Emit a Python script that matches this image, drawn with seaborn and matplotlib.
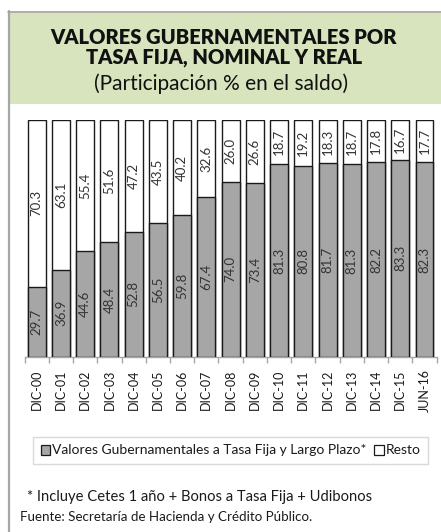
import matplotlib
matplotlib.use("Agg")
import matplotlib.pyplot as plt
import matplotlib.patches as mpatches
from matplotlib.lines import Line2D
import numpy as np
import pandas as pd
import seaborn as sns

# Participación % en el saldo de valores gubernamentales
periodos = ["DIC-00", "DIC-01", "DIC-02", "DIC-03", "DIC-04", "DIC-05", "DIC-06",
            "DIC-07", "DIC-08", "DIC-09", "DIC-10", "DIC-11", "DIC-12", "DIC-13",
            "DIC-14", "DIC-15", "JUN-16"]
tasa_fija = [29.7, 36.9, 44.6, 48.4, 52.8, 56.5, 59.8, 67.4, 74.0, 73.4,
             81.3, 80.8, 81.7, 81.3, 82.2, 83.3, 82.3]
resto = [70.3, 63.1, 55.4, 51.6, 47.2, 43.5, 40.2, 32.6, 26.0, 26.6,
         18.7, 19.2, 18.3, 18.7, 17.8, 16.7, 17.7]

titulo = "VALORES GUBERNAMENTALES POR\nTASA FIJA, NOMINAL Y REAL"
subtitulo = "(Participación % en el saldo)"
serie_fija = "Valores Gubernamentales a Tasa Fija y Largo Plazo*"
serie_resto = "Resto"
nota = "* Incluye Cetes 1 año + Bonos a Tasa Fija + Udibonos"
fuente = "Fuente: Secretaría de Hacienda y Crédito Público."

sns.set_theme(style="white")
plt.rcParams["font.family"] = ["Lato", "DejaVu Sans"]

df = pd.DataFrame({"periodo": periodos, "fija": tasa_fija, "resto": resto})
df["total"] = df["fija"] + df["resto"]

W, H = 441, 532
fig = plt.figure(figsize=(W / 100, H / 100), dpi=100)

def fx(px):
    return px / W

def fy(py):
    return 1 - py / H

# Header band and frame
fig.patches.append(mpatches.Rectangle((fx(8), fy(104)), fx(441 - 8), fy(11) - fy(104),
                                      transform=fig.transFigure, facecolor="#D7E4BD",
                                      edgecolor="none", zorder=0))
fig.lines.append(Line2D([fx(8.5), fx(8.5)], [fy(11), 0], transform=fig.transFigure,
                        color="#A6A6A6", lw=1.6))
fig.lines.append(Line2D([fx(8), 1], [fy(11.5), fy(11.5)], transform=fig.transFigure,
                        color="#A6A6A6", lw=1.2))

fig.text(fx(224), fy(47.5), titulo, ha="center", va="center", fontsize=14.5,
         fontweight="heavy", color="#111111", linespacing=1.0)
fig.text(fx(221), fy(84), subtitulo, ha="center", va="center", fontsize=15,
         color="#111111")

ax = fig.add_axes([fx(24.6), fy(357), fx(436.6 - 24.6), fy(120) - fy(357)])

bw = 0.74
sns.barplot(data=df, x="periodo", y="total", color="white", edgecolor="#1a1a1a",
            linewidth=1.0, width=bw, saturation=1, ax=ax, zorder=2)
sns.barplot(data=df, x="periodo", y="fija", color="#A6A6A6", edgecolor="#1a1a1a",
            linewidth=1.0, width=bw, saturation=1, ax=ax, zorder=3)

for i, (f, r) in enumerate(zip(tasa_fija, resto)):
    ax.text(i, f / 2, f"{f:.1f}", rotation=90, ha="center", va="center",
            fontsize=9.5, color="#333333", zorder=4)
    ax.text(i, f + r / 2, f"{r:.1f}", rotation=90, ha="center", va="center",
            fontsize=9.5, color="#333333", zorder=4)

ax.set_xlim(-0.5, len(periodos) - 0.5)
ax.set_ylim(0, 100)
ax.set_xlabel("")
ax.set_ylabel("")
ax.set_yticks([])
for s in ["left", "right", "top"]:
    ax.spines[s].set_visible(False)
ax.spines["bottom"].set_color("#A6A6A6")
ax.spines["bottom"].set_linewidth(1.0)
ax.set_facecolor("none")

ax.set_xticks(range(len(periodos)))
ax.set_xticklabels(periodos, rotation=90, fontsize=9, color="#1a1a1a")
ax.tick_params(axis="x", which="major", length=0, pad=9)
ax.set_xticks(np.arange(-0.5, len(periodos), 1), minor=True)
ax.tick_params(axis="x", which="minor", length=4, width=1.0, color="#A6A6A6",
               direction="out", bottom=True)

handles = [mpatches.Patch(facecolor="#A6A6A6", edgecolor="#1a1a1a", linewidth=0.9,
                          label=serie_fija),
           mpatches.Patch(facecolor="white", edgecolor="#1a1a1a", linewidth=0.9,
                          label=serie_resto)]
leg = fig.legend(handles=handles, loc="center", ncol=2, mode="expand",
                 bbox_to_anchor=(fx(33), fy(466), fx(428 - 33), fy(435) - fy(466)),
                 frameon=True, fancybox=False, fontsize=10, handlelength=0.7,
                 handleheight=0.7, handletextpad=0.12, borderpad=0.55,
                 columnspacing=0.8, borderaxespad=0)
leg.get_frame().set_edgecolor("#D0D0D0")
leg.get_frame().set_linewidth(1.0)
for t in leg.get_texts():
    t.set_color("#1a1a1a")

fig.text(fx(27), fy(497), nota, ha="left", va="center", fontsize=10.6, color="#1a1a1a")
fig.text(fx(20), fy(517), fuente, ha="left", va="center", fontsize=9.6, color="#1a1a1a")

fig.savefig("out.png", dpi=100, facecolor="white")
